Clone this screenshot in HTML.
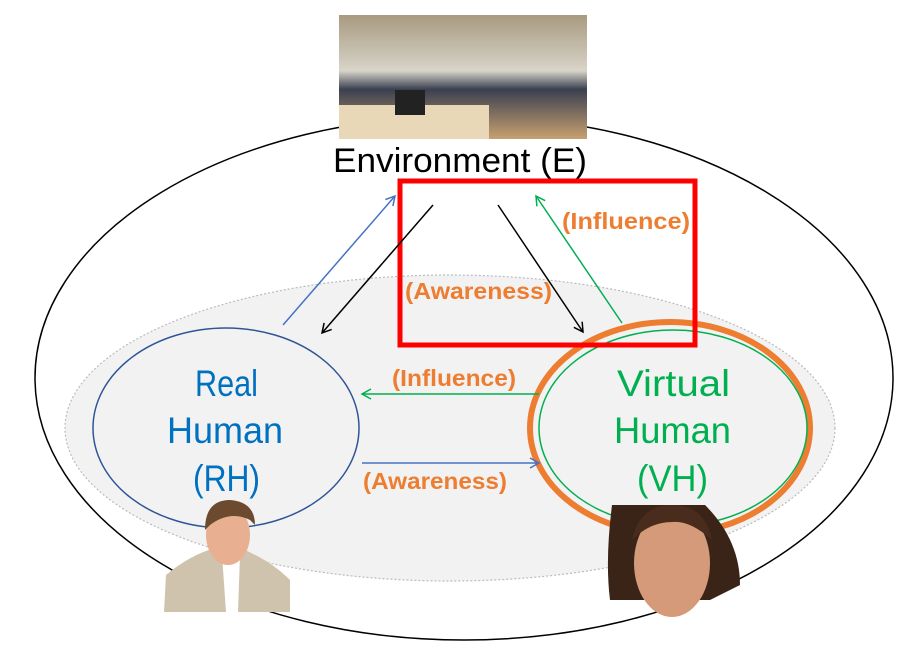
<!DOCTYPE html>
<html><head><meta charset="utf-8"><style>
body{margin:0;background:#fff;width:914px;height:660px;overflow:hidden}
svg{display:block}
.t{font-family:"Liberation Sans Narrow","Liberation Sans",sans-serif}
</style></head><body>
<svg width="914" height="660" viewBox="0 0 914 660" xmlns="http://www.w3.org/2000/svg">
<defs>
<marker id="ab" markerWidth="12" markerHeight="12" refX="10" refY="6" orient="auto" markerUnits="userSpaceOnUse"><path d="M1,1 L10,6 L1,11" fill="none" stroke="#4472c4" stroke-width="1.5"/></marker>
<marker id="ak" markerWidth="12" markerHeight="12" refX="10" refY="6" orient="auto" markerUnits="userSpaceOnUse"><path d="M1,1 L10,6 L1,11" fill="none" stroke="#000" stroke-width="1.5"/></marker>
<marker id="ag" markerWidth="12" markerHeight="12" refX="10" refY="6" orient="auto" markerUnits="userSpaceOnUse"><path d="M1,1 L10,6 L1,11" fill="none" stroke="#00b050" stroke-width="1.5"/></marker>
<linearGradient id="off" x1="0" y1="0" x2="0" y2="1"><stop offset="0" stop-color="#a89a80"/><stop offset="0.45" stop-color="#d8d4c8"/><stop offset="0.6" stop-color="#3a4050"/><stop offset="1" stop-color="#c9a070"/></linearGradient>
</defs>
<ellipse cx="464" cy="378" rx="429" ry="262" fill="#fff" stroke="#000" stroke-width="1.5"/>
<ellipse cx="450" cy="428" rx="385" ry="153" fill="#f2f2f2" stroke="#bbb" stroke-width="1.2" stroke-dasharray="2,2"/>
<rect x="339" y="15" width="248" height="124" fill="url(#off)"/>
<rect x="339" y="105" width="150" height="34" fill="#e8d8b8"/>
<rect x="395" y="90" width="30" height="25" fill="#222"/>
<text x="333" y="172" class="t" font-size="34" textLength="254" lengthAdjust="spacingAndGlyphs" fill="#000">Environment (E)</text>
<ellipse cx="226" cy="428" rx="133" ry="100" fill="#f2f2f2" stroke="#2f5597" stroke-width="1.5"/>
<ellipse cx="670" cy="428" rx="140" ry="106" fill="none" stroke="#ed7d31" stroke-width="6"/>
<ellipse cx="673" cy="428" rx="134" ry="98" fill="#f2f2f2" stroke="#00b050" stroke-width="1.5"/>
<rect x="400" y="181" width="295" height="164" fill="none" stroke="#ff0000" stroke-width="5"/>
<line x1="283" y1="325" x2="395" y2="196" stroke="#4472c4" stroke-width="1.5" marker-end="url(#ab)"/>
<line x1="433" y1="205" x2="322" y2="333" stroke="#000" stroke-width="1.5" marker-end="url(#ak)"/>
<line x1="498" y1="205" x2="583" y2="332" stroke="#000" stroke-width="1.5" marker-end="url(#ak)"/>
<line x1="622" y1="323" x2="536" y2="196" stroke="#00b050" stroke-width="1.5" marker-end="url(#ag)"/>
<line x1="539" y1="394" x2="362" y2="394" stroke="#00b050" stroke-width="1.5" marker-end="url(#ag)"/>
<line x1="362" y1="463" x2="539" y2="463" stroke="#4472c4" stroke-width="1.5" marker-end="url(#ab)"/>
<g class="t" font-weight="bold" font-size="23" fill="#ed7d31" lengthAdjust="spacingAndGlyphs">
<text x="562" y="229" textLength="128" lengthAdjust="spacingAndGlyphs">(Influence)</text>
<text x="405" y="299" textLength="147" lengthAdjust="spacingAndGlyphs">(Awareness)</text>
<text x="392" y="386" textLength="124" lengthAdjust="spacingAndGlyphs">(Influence)</text>
<text x="363" y="489" textLength="144" lengthAdjust="spacingAndGlyphs">(Awareness)</text>
</g>
<g class="t" font-size="37" fill="#0070c0">
<text x="195" y="396" textLength="63" lengthAdjust="spacingAndGlyphs">Real</text>
<text x="167" y="443" textLength="116" lengthAdjust="spacingAndGlyphs">Human</text>
<text x="193" y="491" textLength="67" lengthAdjust="spacingAndGlyphs">(RH)</text>
</g>
<g class="t" font-size="37" fill="#00b050">
<text x="617" y="396" textLength="113" lengthAdjust="spacingAndGlyphs">Virtual</text>
<text x="614" y="443" textLength="117" lengthAdjust="spacingAndGlyphs">Human</text>
<text x="637" y="491" textLength="71" lengthAdjust="spacingAndGlyphs">(VH)</text>
</g>
<!-- man -->
<path d="M164,612 L166,575 Q190,555 215,548 L240,548 Q270,560 290,580 L290,612 Z" fill="#cfc3ae"/>
<path d="M222,555 L240,555 L238,612 L226,612 Z" fill="#fff"/>
<ellipse cx="228" cy="535" rx="22" ry="30" fill="#e8b090"/>
<path d="M205,530 Q205,500 230,500 Q255,502 255,525 L250,520 Q230,510 210,525 Z" fill="#6b4a30"/>
<!-- woman -->
<path d="M612,505 L705,505 Q740,540 740,585 L710,600 L610,600 Q605,560 612,505 Z" fill="#3a2418"/>
<ellipse cx="672" cy="563" rx="38" ry="54" fill="#d49a7a"/>
<path d="M632,540 Q640,505 672,505 Q705,505 712,540 Q690,520 672,522 Q650,522 632,540 Z" fill="#4a2c1c"/>
</svg>
</body></html>
